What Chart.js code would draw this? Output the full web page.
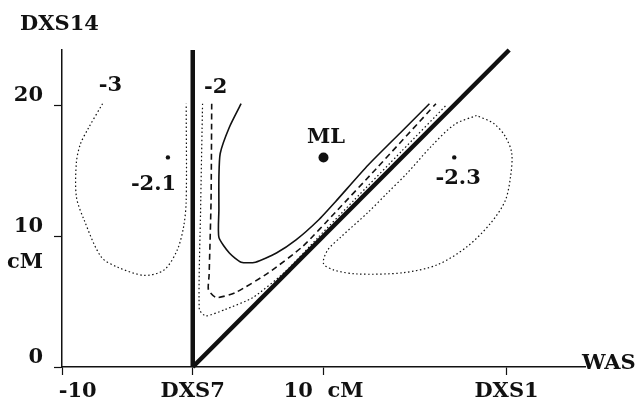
<!DOCTYPE html>
<html>
<head>
<meta charset="utf-8">
<script src="https://cdn.jsdelivr.net/npm/chart.js@4"></script>
<style>
  body { margin: 0; background: #fff; }
  #lod { display: block; }
</style>
</head>
<body>
<canvas id="lod" width="641" height="404"></canvas>
<script>
// lod contour plot, x = WAS side (cM from DXS7), y = DXS14

const xTickValues = [-10, 0, 10, 24];
const xTickLabels = ['\u2003\u2002-10', 'DXS7', '10  cM', 'DXS1'];
const yTickValues = [0, 7.3, 10, 20];
const yTickLabels = ['0', 'cM', '10', '20'];

// boundary lines
const markerLineX = [0, 0];
const markerLineY = [0, 24.2];
const diagX = [0, 24.2];
const diagY = [0, 24.2];

// contour -3 (left, dotted)
const c3X = [-6.9, -8.0, -8.6, -8.9, -8.9, -8.3, -7.0, -5.7, -3.7, -2.2, -1.2, -0.7, -0.5, -0.5];
const c3Y = [20.1, 18.2, 17.0, 15.6, 13.0, 11.2, 8.4, 7.6, 7.0, 7.4, 8.9, 10.7, 12.7, 20.1];

// inner contours along DXS7 / diagonal
const dotX = [0.75, 0.6, 0.5, 1.0, 2.5, 4.6, 7.1, 9.6, 12.3, 16.0, 19.4];
const dotY = [20.1, 12.0, 4.4, 3.9, 4.4, 5.3, 7.3, 9.9, 12.7, 16.5, 20.0];
const dashX = [1.45, 1.4, 1.25, 1.2, 1.8, 3.3, 5.8, 8.4, 10.9, 14.0, 18.6];
const dashY = [20.1, 12.7, 7.0, 5.9, 5.3, 5.7, 7.2, 9.2, 11.8, 15.1, 20.1];
const solidX = [3.7, 2.8, 2.1, 2.0, 2.0, 2.0, 2.8, 3.7, 4.8, 6.4, 7.9, 9.6, 10.9, 13.4, 16.0, 18.1];
const solidY = [20.1, 18.3, 16.3, 14.5, 12.0, 9.9, 8.7, 8.0, 8.0, 8.7, 9.7, 11.2, 12.6, 15.4, 18.0, 20.1];

// contour -2.3 (right blob, dotted, closed)
const blobX = [21.7, 20.0, 18.2, 16.4, 14.9, 13.4, 11.3, 10.3, 10.0, 10.8, 12.6, 16.1, 18.7, 21.0, 22.8, 23.9, 24.3, 24.4, 23.9, 23.0, 21.7];
const blobY = [19.2, 18.5, 16.8, 14.8, 13.3, 11.8, 9.9, 8.9, 7.9, 7.4, 7.1, 7.2, 7.8, 9.2, 11.0, 12.7, 14.5, 16.3, 17.6, 18.6, 19.2];

// local maxima
const peakX = [-1.9, 20.0];
const peakY = [16.0, 16.0];
const mlX = [10.0];
const mlY = [16.0];

// text in the plot
const textLabels = ['-3', '-2', '-2.1', '-2.3', 'ML'];
const textX = [-6.3, 1.75, -3.0, 20.3, 10.2];
const textY = [21.5, 21.3, 13.9, 14.4, 17.5];

const FONT = 'DejaVu Serif';
const FSIZE = 21;

function pts(xs, ys) {
  return xs.map((x, i) => ({ x: x, y: ys[i] }));
}

function lineSet(xs, ys, width, dash, tension) {
  return {
    data: pts(xs, ys),
    showLine: true,
    borderColor: '#111',
    borderWidth: width,
    borderDash: dash,
    pointRadius: 0,
    tension: tension,
    fill: false,
    clip: false
  };
}

const labelPlugin = {
  id: 'plotText',
  afterDraw(chart) {
    const ctx = chart.ctx;
    const xs = chart.scales.x, ys = chart.scales.y;
    ctx.save();
    ctx.fillStyle = '#111';
    ctx.font = 'bold ' + FSIZE + 'px "' + FONT + '"';
    ctx.textAlign = 'center';
    ctx.textBaseline = 'middle';
    textLabels.forEach((t, i) => {
      ctx.fillText(t, xs.getPixelForValue(textX[i]), ys.getPixelForValue(textY[i]));
    });
    ctx.textAlign = 'left';
    ctx.fillText('DXS14', 20, 25);
    ctx.fillText('WAS', chart.chartArea.right - 3, ys.getPixelForValue(0) - 3);
    ctx.restore();
  }
};

new Chart(document.getElementById('lod'), {
  type: 'scatter',
  data: {
    datasets: [
      lineSet(c3X, c3Y, 1.2, [1.5, 2.5], 0.3),
      lineSet(dotX, dotY, 1.2, [1.5, 2.5], 0.2),
      lineSet(dashX, dashY, 1.6, [6, 4], 0.2),
      lineSet(solidX, solidY, 1.6, [], 0.2),
      lineSet(blobX, blobY, 1.2, [1.5, 2.5], 0.3),
      lineSet(markerLineX, markerLineY, 4.5, [], 0),
      lineSet(diagX, diagY, 4.5, [], 0),
      { data: pts(peakX, peakY), pointRadius: 2.2, backgroundColor: '#111', borderWidth: 0 },
      { data: pts(mlX, mlY), pointRadius: 5, backgroundColor: '#111', borderWidth: 0 }
    ]
  },
  options: {
    responsive: false,
    animation: false,
    layout: { padding: { top: 50, right: 56, left: 0, bottom: 0 } },
    plugins: {
      legend: { display: false },
      tooltip: { enabled: false }
    },
    scales: {
      x: {
        type: 'linear',
        min: -10,
        max: 30,
        afterBuildTicks: (axis) => { axis.ticks = xTickValues.map(v => ({ value: v })); },
        afterFit: (axis) => { axis.height = 37; },
        border: { color: '#111', width: 1.5 },
        grid: { drawOnChartArea: false, tickLength: 8, tickColor: '#111', tickWidth: 1.2 },
        ticks: {
          autoSkip: false,
          maxRotation: 0,
          padding: 4,
          color: '#111',
          font: { family: FONT, weight: 'bold', size: FSIZE },
          callback: (v, i) => xTickLabels[i]
        }
      },
      y: {
        type: 'linear',
        min: 0,
        max: 24.2,
        afterBuildTicks: (axis) => { axis.ticks = yTickValues.map(v => ({ value: v })); },
        afterFit: (axis) => { axis.width = 62; },
        border: { color: '#111', width: 1.5 },
        grid: {
          drawOnChartArea: false,
          tickLength: 8,
          tickWidth: 1.2,
          tickColor: (c) => (c.tick && yTickLabels[yTickValues.indexOf(c.tick.value)] === 'cM') ? 'rgba(0,0,0,0)' : '#111'
        },
        ticks: {
          autoSkip: false,
          padding: 11,
          labelOffset: -9,
          color: '#111',
          font: { family: FONT, weight: 'bold', size: FSIZE },
          callback: (v, i) => yTickLabels[i]
        }
      }
    }
  },
  plugins: [labelPlugin]
});
</script>
</body>
</html>
